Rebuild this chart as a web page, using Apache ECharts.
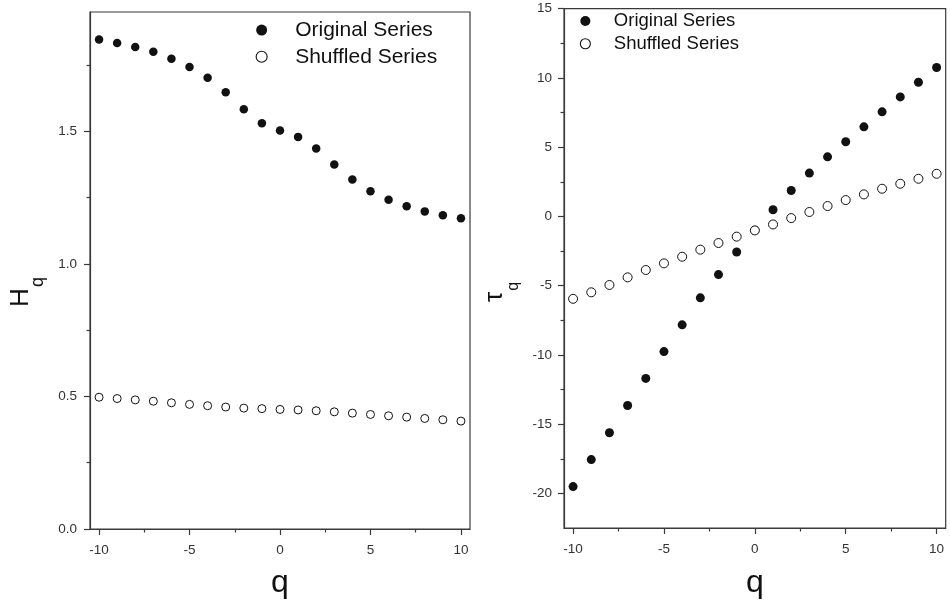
<!DOCTYPE html>
<html>
<head>
<meta charset="utf-8">
<script src="https://cdn.jsdelivr.net/npm/echarts@6/dist/echarts.min.js"></script>
<style>
  html, body { margin: 0; padding: 0; background: #fff; }
  #chart { width: 950px; height: 604px; }
</style>
</head>
<body>
<div id="chart"></div>
<script>
// q values shared by both panels
const qValues = [-10, -9, -8, -7, -6, -5, -4, -3, -2, -1, 0, 1, 2, 3, 4, 5, 6, 7, 8, 9, 10]

// left panel: generalized Hurst exponent H(q)
const hqOriginal = [1.846, 1.833, 1.818, 1.800, 1.774, 1.743, 1.702, 1.647, 1.583, 1.530, 1.503,
  1.479, 1.435, 1.375, 1.318, 1.274, 1.242, 1.217, 1.198, 1.183, 1.172]
const hqShuffled = [0.497, 0.492, 0.487, 0.482, 0.476, 0.470, 0.465, 0.460, 0.456, 0.454, 0.451,
  0.449, 0.446, 0.442, 0.437, 0.432, 0.427, 0.422, 0.417, 0.412, 0.407]

// right panel: mass exponent tau(q)
const tauOriginal = [-19.51, -17.56, -15.62, -13.65, -11.70, -9.76, -7.83, -5.88, -4.20, -2.57, -1.00,
  0.48, 1.87, 3.13, 4.30, 5.39, 6.47, 7.55, 8.63, 9.69, 10.75]
const tauShuffled = [-5.95, -5.48, -4.95, -4.40, -3.87, -3.39, -2.91, -2.40, -1.92, -1.46, -1.01,
  -0.58, -0.12, 0.32, 0.75, 1.18, 1.59, 2.00, 2.36, 2.72, 3.08]

// tick values
const qTicks = [-10, -5, 0, 5, 10]
const qMinorTicks = [-7.5, -2.5, 2.5, 7.5]
const hTicks = [0, 0.5, 1.0, 1.5]
const hMinorTicks = [0.25, 0.75, 1.25, 1.75]
const tauTicks = [-20, -15, -10, -5, 0, 5, 10, 15]
const tauMinorTicks = [-17.5, -12.5, -7.5, -2.5, 2.5, 7.5, 12.5]

const names = ['Original Series', 'Shuffled Series']
const ink = '#111'
const axisColor = '#3a3a3a'
const font = 'Liberation Sans, Arial, sans-serif'

const pairs = arr => qValues.map((q, i) => [q, arr[i]])

// main axis: line, major ticks, labels
function mainAxis(gridIndex, min, max, ticks, fmt) {
  return {
    type: 'value',
    gridIndex,
    min,
    max,
    splitLine: { show: false },
    axisLine: { show: true, onZero: false, lineStyle: { color: axisColor, width: 1.2 } },
    axisTick: { show: true, length: 6, customValues: ticks, lineStyle: { color: axisColor, width: 1.2 } },
    axisLabel: {
      customValues: ticks,
      formatter: fmt,
      color: '#333',
      fontSize: 13.5,
      fontFamily: font
    }
  }
}

// overlay axis that only draws the short minor ticks
function minorAxis(gridIndex, min, max, ticks, position) {
  return {
    type: 'value',
    gridIndex,
    min,
    max,
    position,
    splitLine: { show: false },
    axisLine: { show: false, onZero: false },
    axisLabel: { show: false },
    axisTick: { show: true, length: 3.5, customValues: ticks, lineStyle: { color: axisColor, width: 1.2 } }
  }
}

function xName(axis, gap) {
  return Object.assign(axis, {
    name: 'q',
    nameLocation: 'middle',
    nameGap: gap,
    nameTextStyle: { fontSize: 32, color: ink, fontFamily: font }
  })
}

const xLeft = xName(mainAxis(0, -10.5, 10.5, qTicks, v => String(v)), 38)
xLeft.axisLabel.margin = 14
const xRight = xName(mainAxis(1, -10.5, 10.5, qTicks, v => String(v)), 39)
xRight.axisLabel.margin = 14

const yLeft = mainAxis(0, 0, 1.95, hTicks, v => v.toFixed(1))
yLeft.axisLabel.margin = 13
Object.assign(yLeft, {
  name: '{m|H}{s|q}',
  nameLocation: 'middle',
  nameRotate: 90,
  nameGap: 43,
  nameTextStyle: {
    padding: [0, 43, 0, 0],
    color: ink,
    fontFamily: font,
    rich: {
      m: { fontSize: 26, verticalAlign: 'top', color: ink, fontFamily: font },
      s: { fontSize: 18, padding: [21, 0, 0, 1], color: ink, fontFamily: font }
    }
  }
})

const yRight = mainAxis(1, -22.5, 15, tauTicks, v => String(v))
yRight.axisLabel.margin = 12
Object.assign(yRight, {
  name: '{m|τ}{s|q}',
  nameLocation: 'middle',
  nameRotate: 90,
  nameGap: 42,
  nameTextStyle: {
    padding: [0, 47, 0, 0],
    color: ink,
    fontFamily: font,
    rich: {
      m: { fontSize: 26, verticalAlign: 'top', color: ink, fontFamily: font },
      s: { fontSize: 16, padding: [24, 0, 0, 1], color: ink, fontFamily: font }
    }
  }
})

const filledStyle = { color: ink, opacity: 1 }
const openStyle = { color: '#fff', borderColor: ink, borderWidth: 1, opacity: 1 }

function legendFor(left, top, itemWidth, itemHeight, fontSize, lineHeight) {
  return {
    orient: 'vertical',
    left,
    top,
    padding: 0,
    itemGap: 0,
    itemWidth,
    itemHeight,
    selectedMode: false,
    textStyle: { fontSize, lineHeight, color: ink, fontFamily: font },
    data: [
      { name: names[0], icon: 'circle', itemStyle: filledStyle },
      { name: names[1], icon: 'circle', itemStyle: { color: '#fff', borderColor: ink, borderWidth: 1.1 } }
    ]
  }
}

function scatter(name, xi, arr, size, style) {
  return {
    name,
    type: 'scatter',
    xAxisIndex: xi,
    yAxisIndex: xi,
    symbol: 'circle',
    symbolSize: size,
    itemStyle: style,
    emphasis: { disabled: true },
    data: pairs(arr)
  }
}

const chart = echarts.init(document.getElementById('chart'))
chart.setOption({
  animation: false,
  backgroundColor: '#fff',
  grid: [
    { left: 90, top: 12, width: 380, height: 518, show: true, borderColor: axisColor, borderWidth: 1.2 },
    { left: 564, top: 8.7, width: 381.7, height: 520.3, show: true, borderColor: axisColor, borderWidth: 1.2 }
  ],
  xAxis: [
    xLeft,
    xRight,
    minorAxis(0, -10.5, 10.5, qMinorTicks, 'bottom'),
    minorAxis(1, -10.5, 10.5, qMinorTicks, 'bottom')
  ],
  yAxis: [
    yLeft,
    yRight,
    minorAxis(0, 0, 1.95, hMinorTicks, 'left'),
    minorAxis(1, -22.5, 15, tauMinorTicks, 'left')
  ],
  legend: [
    legendFor(255.6, 16.7, 57, 11, 21, 26.7),
    legendFor(579.8, 9.7, 47, 10, 18.5, 22.7)
  ],
  series: [
    scatter(names[0], 0, hqOriginal, 8.5, filledStyle),
    scatter(names[1], 0, hqShuffled, 8, openStyle),
    scatter(names[0], 1, tauOriginal, 9, filledStyle),
    scatter(names[1], 1, tauShuffled, 9, openStyle)
  ]
})
</script>
</body>
</html>
